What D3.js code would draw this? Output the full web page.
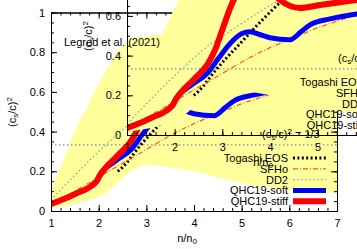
<!DOCTYPE html>
<html>
<head>
<meta charset="utf-8">
<script src="https://cdn.jsdelivr.net/npm/d3@7"></script>
<style>
body { margin: 0; background: #fff; }
svg text { font-family: "Liberation Sans", Arial, sans-serif; font-size: 11px; fill: #000; }
</style>
</head>
<body>
<svg id="chart" width="357" height="249"></svg>
<script>
// Legred et al. (2021) band
var bandN  = [1, 1.25, 1.5, 1.75, 2, 2.25, 2.5, 2.64, 2.75, 3, 3.5, 4, 4.5, 5, 5.5, 6, 6.5, 7];
var bandLo = [0.015, 0.025, 0.035, 0.05, 0.07, 0.11, 0.165, 0.195, 0.21, 0.23, 0.22, 0.2, 0.17, 0.14, 0.12, 0.105, 0.095, 0.09];
var bandHi = [0.1, 0.25, 0.4, 0.52, 0.64, 0.75, 0.83, 0.86, 0.87, 0.88, 0.89, 0.9, 0.91, 0.93, 0.94, 0.95, 0.96, 0.96];

// QHC19-stiff
var stiffN = [1, 1.5, 1.95, 2.02, 2.4, 2.7, 2.85, 3.0, 3.2, 3.5, 3.8, 4.0, 4.21, 4.63, 5.05, 5.8, 6.4, 7];
var stiffV = [0.035, 0.085, 0.148, 0.178, 0.28, 0.36, 0.43, 0.53, 0.66, 0.76, 0.77, 0.73, 0.68, 0.64, 0.655, 0.68, 0.7, 0.72];

// QHC19-soft
var softN = [1, 1.5, 1.95, 2.02, 2.4, 2.68, 2.9, 3.16, 3.4, 3.58, 3.8, 4.0, 4.42, 4.65, 4.84, 5.26, 5.82, 6.4, 7];
var softV = [0.035, 0.085, 0.148, 0.178, 0.26, 0.31, 0.38, 0.46, 0.51, 0.52, 0.505, 0.49, 0.48, 0.52, 0.555, 0.585, 0.61, 0.625, 0.635];

// Togashi EOS
var togN = [2.4, 2.5, 2.87, 3.37, 3.8, 4.27, 5, 6, 7];
var togV = [0.2, 0.22, 0.33, 0.46, 0.57, 0.68, 0.8, 0.88, 0.92];

// SFHo
var sfhoN = [1, 1.5, 2, 2.5, 3, 3.5, 4, 4.5, 5, 5.5, 6, 6.5, 7];
var sfhoV = [0.04, 0.1, 0.17, 0.24, 0.31, 0.38, 0.44, 0.49, 0.54, 0.58, 0.62, 0.65, 0.68];

// DD2
var dd2N = [1, 1.5, 2, 2.32, 2.6, 3.27, 4.17, 5, 6, 7];
var dd2V = [0.055, 0.18, 0.3, 0.37, 0.43, 0.54, 0.675, 0.76, 0.82, 0.86];

var xTicks = [1, 2, 3, 4, 5, 6, 7];
var yTicks = [0, 0.2, 0.4, 0.6, 0.8, 1];
var ySlash = 1 / 3;

var series = [
  {name: "Togashi EOS", n: togN,   v: togV,   color: "#000",     width: 3,   dash: "2,2.4"},
  {name: "SFHo",        n: sfhoN,  v: sfhoV,  color: "#ff5a1a",  width: 1.2, dash: "5,2,1,2"},
  {name: "DD2",         n: dd2N,   v: dd2V,   color: "#999",     width: 1.3, dash: "1.5,2.5"},
  {name: "QHC19-soft",  n: softN,  v: softV,  color: "#0000ff",  width: 5,   dash: null},
  {name: "QHC19-stiff", n: stiffN, v: stiffV, color: "#ff0000",  width: 6,   dash: null}
];

var svg = d3.select("#chart");
var x = d3.scaleLinear().domain([1, 7]).range([51, 337]);
var y = d3.scaleLinear().domain([0, 1]).range([211, 12.5]);

function csLabel(t, after) {
  t.append("tspan").text("(c");
  t.append("tspan").attr("baseline-shift", "-25%").attr("font-size", "8px").text("s");
  t.append("tspan").text("/c)");
  t.append("tspan").attr("baseline-shift", "45%").attr("font-size", "8px").text("2");
  if (after) t.append("tspan").text(after);
}

function drawPanel(dx, dy, id) {
  var g = svg.append("g").attr("transform", "translate(" + dx + "," + dy + ")");

  g.append("clipPath").attr("id", "clip" + id)
    .append("rect").attr("x", 51).attr("y", 12.5).attr("width", 286).attr("height", 198.5);
  var plot = g.append("g").attr("clip-path", "url(#clip" + id + ")");

  // band
  var area = d3.area()
    .x(function(d, i) { return x(bandN[i]); })
    .y0(function(d, i) { return y(bandLo[i]); })
    .y1(function(d, i) { return y(bandHi[i]); })
    .curve(d3.curveMonotoneX);
  plot.append("path").datum(bandN).attr("d", area).attr("fill", "#ffff9c");

  // cs^2 = 1/3
  plot.append("line")
    .attr("x1", x(1)).attr("x2", x(7)).attr("y1", y(ySlash)).attr("y2", y(ySlash))
    .attr("stroke", "#8a8aa8").attr("stroke-width", 1.2).attr("stroke-dasharray", "1.5,2.5");

  series.forEach(function(s) {
    var line = d3.line()
      .x(function(d, i) { return x(s.n[i]); })
      .y(function(d) { return y(d); })
      .curve(d3.curveMonotoneX);
    plot.append("path").datum(s.v).attr("d", line)
      .attr("fill", "none").attr("stroke", s.color).attr("stroke-width", s.width)
      .attr("stroke-dasharray", s.dash);
  });

  // axes, ticks inward
  var fam = '"Liberation Sans", Arial, sans-serif';
  var minorX = d3.range(1, 7.001, 0.2);
  var minorY = d3.range(0, 1.001, 0.05);

  function styleAxis(a) {
    a.attr("font-family", fam).attr("font-size", 11);
    a.selectAll("line").attr("stroke", "#000");
    a.select(".domain").attr("stroke", "#000");
  }

  g.append("g").attr("transform", "translate(0," + y(0) + ")")
    .call(d3.axisBottom(x).tickValues(minorX).tickSize(-3).tickSizeOuter(0).tickFormat(""))
    .call(styleAxis);
  g.append("g").attr("transform", "translate(0," + y(0) + ")")
    .call(d3.axisBottom(x).tickValues(xTicks).tickSize(-6).tickSizeOuter(0).tickPadding(8).tickFormat(d3.format("d")))
    .call(styleAxis);
  g.append("g").attr("transform", "translate(0," + y(1) + ")")
    .call(d3.axisTop(x).tickValues(minorX).tickSize(-3).tickSizeOuter(0).tickFormat(""))
    .call(styleAxis);
  g.append("g").attr("transform", "translate(0," + y(1) + ")")
    .call(d3.axisTop(x).tickValues(xTicks).tickSize(-6).tickSizeOuter(0).tickFormat(""))
    .call(styleAxis);

  g.append("g").attr("transform", "translate(" + x(1) + ",0)")
    .call(d3.axisLeft(y).tickValues(minorY).tickSize(-3).tickSizeOuter(0).tickFormat(""))
    .call(styleAxis);
  g.append("g").attr("transform", "translate(" + x(1) + ",0)")
    .call(d3.axisLeft(y).tickValues(yTicks).tickSize(-6).tickSizeOuter(0).tickPadding(6).tickFormat(d3.format("")))
    .call(styleAxis);
  g.append("g").attr("transform", "translate(" + x(7) + ",0)")
    .call(d3.axisRight(y).tickValues(minorY).tickSize(-3).tickSizeOuter(0).tickFormat(""))
    .call(styleAxis);
  g.append("g").attr("transform", "translate(" + x(7) + ",0)")
    .call(d3.axisRight(y).tickValues(yTicks).tickSize(-6).tickSizeOuter(0).tickFormat(""))
    .call(styleAxis);

  // axis titles
  var yt = g.append("text").attr("transform", "translate(16,112) rotate(-90)").attr("text-anchor", "middle");
  csLabel(yt);
  var xt = g.append("text").attr("x", 187).attr("y", 242).attr("text-anchor", "middle");
  xt.append("tspan").text("n/n");
  xt.append("tspan").attr("baseline-shift", "-25%").attr("font-size", "8px").text("0");

  // annotation
  var lab = g.append("text").attr("x", 262).attr("y", 138);
  csLabel(lab, " = 1/3");

  // legend
  series.forEach(function(s, i) {
    var ly = 158 + i * 10.8;
    g.append("text").attr("x", 288).attr("y", ly + 4).attr("text-anchor", "end").text(s.name);
    g.append("line").attr("x1", 293).attr("x2", 326).attr("y1", ly).attr("y2", ly)
      .attr("stroke", s.color).attr("stroke-width", s.width).attr("stroke-dasharray", s.dash);
  });
  return g;
}

drawPanel(0, 0, "a");
drawPanel(76, -76, "b");

// band credit sits on top of both copies
svg.append("text").attr("x", 64).attr("y", 46).text("Legred et al. (2021)");
</script>
</body>
</html>
